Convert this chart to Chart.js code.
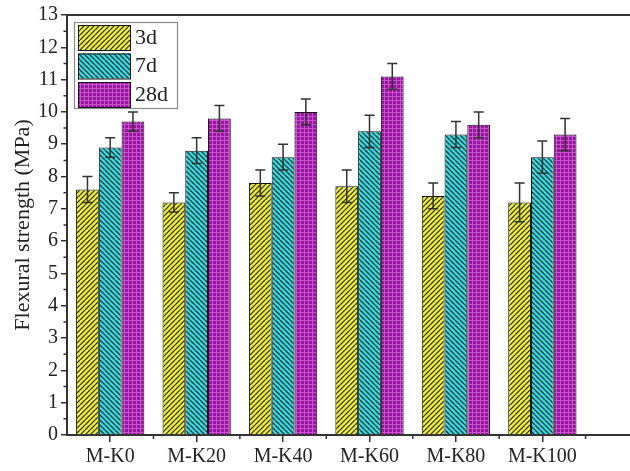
<!DOCTYPE html>
<html>
<head>
<meta charset="utf-8">
<script src="https://cdn.jsdelivr.net/npm/chart.js@4.4.1/dist/chart.umd.min.js"></script>
<style>
  html, body { margin: 0; padding: 0; background: #fff; overflow: hidden; width: 630px; height: 471px; }
  #wrap { position: relative; width: 680px; height: 471px; }
</style>
</head>
<body>
<div id="wrap"><canvas id="c" width="680" height="471"></canvas></div>
<script>
// Flexural strength of the mortar mixes at three curing ages
const categories = ['M-K0', 'M-K20', 'M-K40', 'M-K60', 'M-K80', 'M-K100'];
const seriesNames = ['3d', '7d', '28d'];
const strength3d  = [7.6, 7.2, 7.8, 7.7, 7.4, 7.2];
const strength7d  = [8.9, 8.8, 8.6, 9.4, 9.3, 8.6];
const strength28d = [9.7, 9.8, 10.0, 11.1, 9.6, 9.3];
const error3d  = [0.4, 0.3, 0.4, 0.5, 0.4, 0.6];
const error7d  = [0.3, 0.4, 0.4, 0.5, 0.4, 0.5];
const error28d = [0.3, 0.4, 0.4, 0.4, 0.4, 0.5];
const yTickValues = [0, 1, 2, 3, 4, 5, 6, 7, 8, 9, 10, 11, 12, 13];

const FAMILY = '"Liberation Serif", "Times New Roman", serif';
const FONT = { family: FAMILY, size: 20 };
const TITLE_FONT = { family: FAMILY, size: 22 };
const LEGEND_SIZE = 22;
const INK = '#222';
const AXIS = '#333';

// Fill patterns: "/" hatch, "\" hatch and a fine grid
function hatch(bg, fg, forward, lw) {
  const s = 5;
  const c = document.createElement('canvas');
  c.width = s; c.height = s;
  const g = c.getContext('2d');
  g.fillStyle = bg; g.fillRect(0, 0, s, s);
  g.strokeStyle = fg; g.lineWidth = lw;
  g.beginPath();
  for (let k = -1; k <= 1; k++) {
    if (forward) { g.moveTo(k * s, s); g.lineTo(k * s + s, 0); }
    else { g.moveTo(k * s, 0); g.lineTo(k * s + s, s); }
  }
  g.stroke();
  return g.createPattern(c, 'repeat');
}
function grid(bg, fg) {
  const s = 4;
  const c = document.createElement('canvas');
  c.width = s; c.height = s;
  const g = c.getContext('2d');
  g.fillStyle = bg; g.fillRect(0, 0, s, s);
  g.fillStyle = fg;
  g.fillRect(0, 0, s, 1);
  g.fillRect(0, 0, 1, s);
  return g.createPattern(c, 'repeat');
}
const fills = [
  hatch('#ecec3c', '#262610', true, 1.2),
  hatch('#3cdcdc', '#143a46', false, 1.3),
  grid('#9a16a2', '#c854cc')
];

const values = [strength3d, strength7d, strength28d];
const errors = [error3d, error7d, error28d];

// one empty slot on the right keeps the axis running past the last group
const labels = categories.concat(['']);

const errorBars = {
  id: 'errorBars',
  afterDatasetsDraw(chart) {
    const ctx = chart.ctx, ys = chart.scales.y;
    ctx.save();
    ctx.strokeStyle = '#333';
    ctx.lineWidth = 1.5;
    chart.data.datasets.forEach((ds, i) => {
      const meta = chart.getDatasetMeta(i);
      meta.data.forEach((bar, j) => {
        const v = values[i][j], e = errors[i][j];
        if (v == null) return;
        const yt = ys.getPixelForValue(v + e), yb = ys.getPixelForValue(v - e);
        const x = bar.x, w = 5;
        ctx.beginPath();
        ctx.moveTo(x, yt); ctx.lineTo(x, yb);
        ctx.moveTo(x - w, yt); ctx.lineTo(x + w, yt);
        ctx.moveTo(x - w, yb); ctx.lineTo(x + w, yb);
        ctx.stroke();
      });
    });
    ctx.restore();
  }
};

const frameAndTicks = {
  id: 'frameAndTicks',
  afterDraw(chart) {
    const ctx = chart.ctx, a = chart.chartArea;
    const xs = chart.scales.x, ys = chart.scales.y;
    ctx.save();
    ctx.strokeStyle = AXIS;
    // top frame line
    ctx.lineWidth = 2;
    ctx.beginPath();
    ctx.moveTo(a.left, a.top); ctx.lineTo(a.right, a.top);
    ctx.stroke();
    ctx.lineWidth = 1.5;
    ctx.beginPath();
    // minor ticks on the value axis
    for (let v = 0.5; v < 13; v += 1) {
      const y = ys.getPixelForValue(v);
      ctx.moveTo(a.left - 3.5, y); ctx.lineTo(a.left, y);
    }
    // minor ticks on the category axis, between groups
    for (let i = 0; i < categories.length; i++) {
      const x = (xs.getPixelForValue(i) + xs.getPixelForValue(i + 1)) / 2;
      ctx.moveTo(x, a.bottom); ctx.lineTo(x, a.bottom + 4);
    }
    ctx.stroke();
    ctx.restore();
  }
};

const legendBox = {
  id: 'legendBox',
  afterDraw(chart) {
    const ctx = chart.ctx, a = chart.chartArea;
    const bx = a.left + 7, by = a.top + 7;
    ctx.save();
    ctx.fillStyle = '#fff';
    ctx.fillRect(bx, by, 103, 86);
    ctx.strokeStyle = '#8a8a8a';
    ctx.lineWidth = 1.2;
    ctx.strokeRect(bx + 0.5, by + 0.5, 103, 86);
    ctx.font = LEGEND_SIZE + 'px ' + FAMILY;
    ctx.textBaseline = 'middle';
    seriesNames.forEach((name, i) => {
      const sy = by + 3 + i * 28.5;
      ctx.fillStyle = fills[i];
      ctx.fillRect(bx + 4, sy, 52, 25);
      ctx.strokeStyle = '#111';
      ctx.lineWidth = 1;
      ctx.strokeRect(bx + 4.5, sy + 0.5, 52, 25);
      ctx.fillStyle = INK;
      ctx.fillText(name, bx + 61, sy + 13);
    });
    ctx.restore();
  }
};

new Chart(document.getElementById('c'), {
  type: 'bar',
  data: {
    labels: labels,
    datasets: seriesNames.map((name, i) => ({
      label: name,
      data: values[i],
      backgroundColor: fills[i],
      borderColor: '#111',
      borderWidth: 1,
      categoryPercentage: 0.79,
      barPercentage: 1.0
    }))
  },
  options: {
    responsive: false,
    animation: false,
    devicePixelRatio: 1,
    layout: { padding: { left: 0, top: 15, right: 8, bottom: 0 } },
    plugins: { legend: { display: false }, tooltip: { enabled: false } },
    scales: {
      x: {
        offset: true,
        ticks: { color: INK, font: FONT, padding: 3, maxRotation: 0, autoSkip: false },
        grid: {
          offset: false, drawOnChartArea: false, drawTicks: true, tickLength: 7,
          lineWidth: 1.5,
          color: (c) => (c.index < categories.length ? AXIS : 'rgba(0,0,0,0)')
        },
        border: { display: true, color: AXIS, width: 2 },
        afterFit(s) { s.height = 36; }
      },
      y: {
        min: 0, max: 13,
        afterBuildTicks(s) { s.ticks = yTickValues.map(v => ({ value: v })); },
        ticks: { color: INK, font: FONT, padding: 3 },
        grid: { drawOnChartArea: false, drawTicks: true, tickLength: 6, color: AXIS, lineWidth: 1.5 },
        border: { display: true, color: AXIS, width: 2 },
        title: {
          display: true, text: 'Flexural strength (MPa)', color: INK, font: TITLE_FONT,
          padding: { top: 10, bottom: 0 }
        },
        afterFit(s) { s.width = 67; }
      }
    }
  },
  plugins: [errorBars, frameAndTicks, legendBox]
});
</script>
</body>
</html>
